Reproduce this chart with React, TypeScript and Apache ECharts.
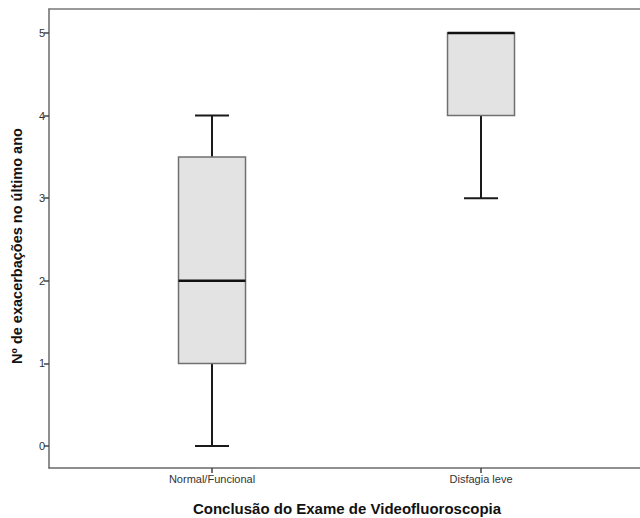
import React, { useEffect, useRef } from "react";
import * as echarts from "echarts";

const categories = ["Normal/Funcional", "Disfagia leve"];
// [min, q1, median, q3, max]
const boxValues = [
  [0, 1, 2, 3.5, 4],
  [3, 4, 5, 5, 5],
];
const yTicks = [0, 1, 2, 3, 4, 5];
const xTitle = "Conclusão do Exame de Videofluoroscopia";
const yTitle = "Nº de exacerbações no último ano";

export default function App() {
  const ref = useRef<HTMLDivElement>(null);
  useEffect(() => {
    if (!ref.current) return;
    const chart = echarts.init(ref.current, null, { renderer: "svg" });
    const data = boxValues.map((b, i) => [i, ...b]);
    const font = "Liberation Sans, Arial, sans-serif";
    const xMin = -0.606;
    const xMax = 1.591;
    chart.setOption({
      animation: false,
      backgroundColor: "#ffffff",
      grid: {
        left: 49,
        top: 9,
        right: 0,
        bottom: 50,
        show: false,
      },
      xAxis: [
        {
          type: "value",
          min: xMin,
          max: xMax,
          splitLine: { show: false },
          axisLine: { show: true, onZero: false, lineStyle: { color: "#6a6a6a", width: 1.5 } },
          axisTick: {
            show: true,
            length: 5,
            customValues: [0, 1],
            lineStyle: { color: "#444", width: 1.5 },
          },
          axisLabel: {
            customValues: [0, 1],
            formatter: (v: number) => categories[Math.round(v)] ?? "",
            fontFamily: font,
            fontSize: 11,
            color: "#333",
            margin: 5,
          },
        },
        {
          type: "value",
          position: "top",
          min: xMin,
          max: xMax,
          splitLine: { show: false },
          axisLine: { show: true, onZero: false, lineStyle: { color: "#7a7a7a", width: 1.5 } },
          axisTick: { show: false },
          axisLabel: { show: false },
        },
      ],
      yAxis: {
        type: "value",
        min: -0.266,
        max: 5.29,
        splitLine: { show: false },
        axisLine: { show: true, onZero: false, lineStyle: { color: "#6a6a6a", width: 1.5 } },
        axisTick: {
          show: true,
          length: 5,
          customValues: yTicks,
          lineStyle: { color: "#444", width: 1.5 },
        },
        axisLabel: {
          customValues: yTicks,
          fontFamily: font,
          fontSize: 11,
          color: "#333",
          margin: 4,
        },
      },
      graphic: [
        {
          type: "text",
          x: 347,
          y: 508,
          style: {
            text: xTitle,
            font: `bold 15px ${font}`,
            fill: "#111",
            align: "center",
            verticalAlign: "middle",
          },
        },
        {
          type: "text",
          x: 17,
          y: 246,
          rotation: Math.PI / 2,
          style: {
            text: yTitle,
            font: `bold 14.5px ${font}`,
            fill: "#111",
            align: "center",
            verticalAlign: "middle",
          },
        },
      ],
      series: [
        {
          type: "custom",
          xAxisIndex: 0,
          data,
          encode: { x: 0, y: [1, 2, 3, 4, 5] },
          renderItem: (params: any, api: any) => {
            const x = api.value(0);
            const pMin = api.coord([x, api.value(1)]);
            const pQ1 = api.coord([x, api.value(2)]);
            const pMed = api.coord([x, api.value(3)]);
            const pQ3 = api.coord([x, api.value(4)]);
            const pMax = api.coord([x, api.value(5)]);
            const cx = pMed[0];
            const hw = 33.5;
            const cw = 17;
            const wStyle = { stroke: "#1a1a1a", lineWidth: 2 };
            return {
              type: "group",
              children: [
                { type: "line", shape: { x1: cx, y1: pQ1[1], x2: cx, y2: pMin[1] }, style: wStyle },
                { type: "line", shape: { x1: cx, y1: pQ3[1], x2: cx, y2: pMax[1] }, style: wStyle },
                { type: "line", shape: { x1: cx - cw, y1: pMin[1], x2: cx + cw, y2: pMin[1] }, style: wStyle },
                { type: "line", shape: { x1: cx - cw, y1: pMax[1], x2: cx + cw, y2: pMax[1] }, style: wStyle },
                {
                  type: "rect",
                  shape: { x: cx - hw, y: pQ3[1], width: 2 * hw, height: pQ1[1] - pQ3[1] },
                  style: { fill: "#e3e3e3", stroke: "#707070", lineWidth: 1.5 },
                },
                {
                  type: "line",
                  shape: { x1: cx - hw, y1: pMed[1], x2: cx + hw, y2: pMed[1] },
                  style: { stroke: "#111", lineWidth: 2.5 },
                },
              ],
            };
          },
        },
      ],
    });
    return () => chart.dispose();
  }, []);
  return (
    <div
      ref={ref}
      style={{ position: "fixed", left: 0, top: 0, width: 640, height: 518 }}
    />
  );
}
